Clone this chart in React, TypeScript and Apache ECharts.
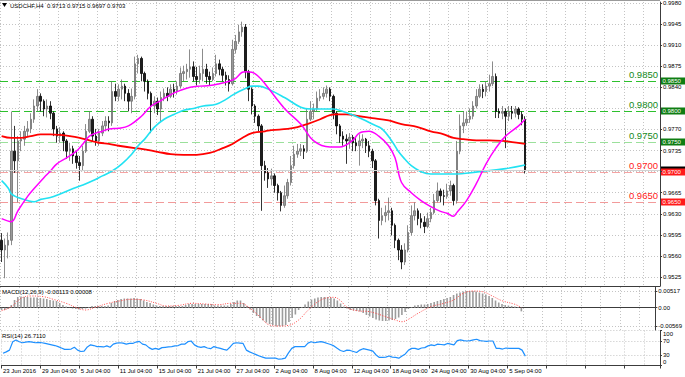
import React, { useEffect, useRef } from "react";
import * as echarts from "echarts";

const FONT = '"Liberation Sans", Arial, sans-serif';
const slotCount = 203;
const categories = Array.from({ length: slotCount }, (_, i) => String(i));

const dateLabels = ["23 Jun 2016", "29 Jun 04:00", "5 Jul 04:00", "11 Jul 04:00", "15 Jul 04:00", "21 Jul 04:00", "27 Jul 04:00", "2 Aug 04:00", "8 Aug 04:00", "12 Aug 04:00", "18 Aug 04:00", "24 Aug 04:00", "30 Aug 04:00", "5 Sep 04:00"];
const priceTicks = [0.9525, 0.956, 0.9595, 0.963, 0.9665, 0.97, 0.9735, 0.977, 0.9805, 0.984, 0.9875, 0.991, 0.9945, 0.998];
// labels hidden behind the level boxes in the reference are left out
const priceLabels = [0.9525, 0.956, 0.9595, 0.963, 0.9665, 0.9735, 0.977, 0.984, 0.9875, 0.991, 0.9945, 0.998];
const macdTicks = [-0.00569, 0, 0.00517];
const rsiTicks = [0, 30, 70, 100];

const symbolName = "USDCHF,H4";
const lastBar = [0.9713, 0.9715, 0.9697, 0.9703];
const macdNow = [-0.00113, 0.00008];
const rsiNow = 26.711;
const greenLevels = [0.985, 0.98, 0.975];
const redLevels = [0.97, 0.965];
const bidPrice = 0.9703;

// [open, close, low, high] per 8-hour slot
const candles = [
[0.9586,0.9570,0.9550,0.9598],[0.9570,0.9578,0.9523,0.9589],[0.9578,0.9586,0.9556,0.9599],[0.9586,0.9734,0.9578,0.9800],
[0.9734,0.9718,0.9698,0.9776],[0.9718,0.9751,0.9649,0.9759],[0.9751,0.9754,0.9734,0.9767],[0.9754,0.9767,0.9743,0.9776],
[0.9767,0.9771,0.9759,0.9784],[0.9771,0.9787,0.9764,0.9797],[0.9787,0.9809,0.9781,0.9820],[0.9809,0.9825,0.9800,0.9837],
[0.9825,0.9817,0.9800,0.9830],[0.9817,0.9804,0.9792,0.9820],[0.9804,0.9809,0.9790,0.9820],[0.9809,0.9797,0.9787,0.9817],
[0.9797,0.9771,0.9759,0.9800],[0.9771,0.9759,0.9748,0.9776],[0.9759,0.9764,0.9748,0.9774],[0.9764,0.9751,0.9734,0.9767],
[0.9751,0.9734,0.9721,0.9754],[0.9734,0.9738,0.9718,0.9748],[0.9738,0.9726,0.9713,0.9743],[0.9726,0.9715,0.9705,0.9734],
[0.9715,0.9710,0.9685,0.9726],[0.9710,0.9734,0.9701,0.9743],[0.9734,0.9767,0.9731,0.9779],[0.9767,0.9787,0.9764,0.9800],
[0.9787,0.9759,0.9751,0.9792],[0.9759,0.9751,0.9743,0.9771],[0.9751,0.9764,0.9743,0.9771],[0.9764,0.9776,0.9759,0.9784],
[0.9776,0.9784,0.9767,0.9792],[0.9784,0.9781,0.9767,0.9792],[0.9781,0.9833,0.9776,0.9850],[0.9833,0.9825,0.9817,0.9846],
[0.9825,0.9837,0.9817,0.9845],[0.9837,0.9842,0.9820,0.9853],[0.9842,0.9830,0.9817,0.9846],[0.9830,0.9817,0.9800,0.9837],
[0.9817,0.9825,0.9797,0.9838],[0.9825,0.9879,0.9820,0.9891],[0.9879,0.9888,0.9863,0.9894],[0.9888,0.9863,0.9850,0.9891],
[0.9863,0.9850,0.9833,0.9866],[0.9850,0.9830,0.9820,0.9853],[0.9830,0.9809,0.9764,0.9833],[0.9809,0.9817,0.9797,0.9825],
[0.9817,0.9804,0.9794,0.9823],[0.9804,0.9823,0.9784,0.9833],[0.9823,0.9830,0.9817,0.9838],[0.9830,0.9825,0.9817,0.9840],
[0.9825,0.9837,0.9822,0.9845],[0.9837,0.9833,0.9823,0.9846],[0.9833,0.9842,0.9828,0.9850],[0.9842,0.9863,0.9838,0.9873],
[0.9863,0.9866,0.9850,0.9876],[0.9866,0.9870,0.9853,0.9879],[0.9870,0.9874,0.9856,0.9903],[0.9874,0.9858,0.9850,0.9883],
[0.9858,0.9853,0.9843,0.9874],[0.9853,0.9863,0.9846,0.9876],[0.9863,0.9870,0.9850,0.9904],[0.9870,0.9858,0.9846,0.9879],
[0.9858,0.9853,0.9843,0.9866],[0.9853,0.9863,0.9850,0.9873],[0.9863,0.9879,0.9858,0.9894],[0.9879,0.9870,0.9860,0.9886],
[0.9870,0.9860,0.9850,0.9874],[0.9860,0.9853,0.9843,0.9866],[0.9853,0.9846,0.9833,0.9860],[0.9846,0.9903,0.9843,0.9919],
[0.9903,0.9916,0.9896,0.9927],[0.9916,0.9932,0.9912,0.9944],[0.9932,0.9940,0.9924,0.9949],[0.9940,0.9866,0.9855,0.9945],
[0.9866,0.9837,0.9817,0.9869],[0.9837,0.9809,0.9795,0.9840],[0.9809,0.9792,0.9781,0.9812],[0.9792,0.9776,0.9767,0.9795],
[0.9776,0.9710,0.9635,0.9779],[0.9710,0.9698,0.9685,0.9718],[0.9698,0.9688,0.9673,0.9706],[0.9688,0.9693,0.9677,0.9705],
[0.9693,0.9677,0.9665,0.9697],[0.9677,0.9665,0.9652,0.9680],[0.9665,0.9644,0.9634,0.9668],[0.9644,0.9660,0.9640,0.9677],
[0.9660,0.9682,0.9655,0.9688],[0.9682,0.9710,0.9677,0.9726],[0.9710,0.9729,0.9705,0.9743],[0.9729,0.9734,0.9723,0.9746],
[0.9734,0.9738,0.9726,0.9746],[0.9738,0.9734,0.9721,0.9744],[0.9734,0.9787,0.9731,0.9804],[0.9787,0.9800,0.9784,0.9817],
[0.9800,0.9804,0.9787,0.9813],[0.9804,0.9822,0.9800,0.9833],[0.9822,0.9825,0.9817,0.9837],[0.9825,0.9830,0.9820,0.9840],
[0.9830,0.9837,0.9823,0.9843],[0.9837,0.9825,0.9817,0.9840],[0.9825,0.9797,0.9787,0.9828],[0.9797,0.9776,0.9762,0.9800],
[0.9776,0.9759,0.9748,0.9779],[0.9759,0.9754,0.9743,0.9767],[0.9754,0.9751,0.9713,0.9762],[0.9751,0.9757,0.9738,0.9764],
[0.9757,0.9748,0.9734,0.9761],[0.9748,0.9743,0.9734,0.9757],[0.9743,0.9751,0.9710,0.9762],[0.9751,0.9754,0.9739,0.9762],
[0.9754,0.9743,0.9731,0.9756],[0.9743,0.9734,0.9724,0.9751],[0.9734,0.9718,0.9706,0.9738],[0.9718,0.9652,0.9644,0.9721],
[0.9652,0.9619,0.9589,0.9655],[0.9619,0.9627,0.9611,0.9640],[0.9627,0.9632,0.9616,0.9644],[0.9632,0.9635,0.9619,0.9657],
[0.9635,0.9611,0.9594,0.9640],[0.9611,0.9586,0.9573,0.9614],[0.9586,0.9570,0.9553,0.9589],[0.9570,0.9550,0.9538,0.9578],
[0.9550,0.9570,0.9545,0.9581],[0.9570,0.9599,0.9566,0.9611],[0.9599,0.9627,0.9594,0.9644],[0.9627,0.9635,0.9619,0.9649],
[0.9635,0.9622,0.9611,0.9639],[0.9622,0.9616,0.9606,0.9631],[0.9616,0.9609,0.9598,0.9626],[0.9609,0.9622,0.9606,0.9632],
[0.9622,0.9632,0.9616,0.9640],[0.9632,0.9652,0.9629,0.9663],[0.9652,0.9668,0.9649,0.9682],[0.9668,0.9660,0.9649,0.9672],
[0.9660,0.9659,0.9644,0.9670],[0.9659,0.9668,0.9655,0.9680],[0.9668,0.9677,0.9660,0.9685],[0.9677,0.9652,0.9644,0.9680],
[0.9652,0.9734,0.9647,0.9751],[0.9734,0.9776,0.9729,0.9795],[0.9776,0.9781,0.9764,0.9800],[0.9781,0.9787,0.9776,0.9800],
[0.9787,0.9792,0.9781,0.9805],[0.9792,0.9809,0.9787,0.9817],[0.9809,0.9825,0.9805,0.9837],[0.9825,0.9837,0.9822,0.9845],
[0.9837,0.9833,0.9822,0.9845],[0.9833,0.9842,0.9825,0.9850],[0.9842,0.9846,0.9833,0.9861],[0.9846,0.9858,0.9842,0.9883],
[0.9858,0.9800,0.9789,0.9863],[0.9800,0.9797,0.9789,0.9805],[0.9797,0.9800,0.9787,0.9809],[0.9800,0.9792,0.9739,0.9805],
[0.9792,0.9800,0.9784,0.9809],[0.9800,0.9797,0.9787,0.9809],[0.9797,0.9804,0.9790,0.9809],[0.9804,0.9795,0.9787,0.9807],
[0.9795,0.9787,0.9777,0.9800],[0.9787,0.9703,0.9697,0.9792]
];

// moving averages as [slot, value]
const maFast = [[0,0.9622],[3,0.9617],[5,0.9635],[8,0.9659],[10,0.9672],[13,0.9690],[15,0.9701],[17,0.9713],[20,0.9723],[23,0.9734],[25,0.9746],[27,0.9759],[29,0.9764],[31,0.9767],[33,0.9771],[36,0.9772],[39,0.9776],[43,0.9792],[46,0.9809],[49,0.9818],[52,0.9828],[55,0.9835],[58,0.9840],[61,0.9842],[64,0.9843],[67,0.9846],[70,0.9850],[72,0.9855],[74,0.9865],[75,0.9866],[77,0.9865],[79,0.9858],[81,0.9846],[87,0.9805],[92,0.9779],[96,0.9751],[101,0.9741],[104,0.9741],[108,0.9752],[110,0.9764],[113,0.9767],[116,0.9759],[119,0.9743],[121,0.9723],[123,0.9682],[126,0.9665],[129,0.9652],[132,0.9642],[135,0.9634],[137,0.9631],[139,0.9626],[140,0.9632],[143,0.9652],[146,0.9680],[149,0.9713],[152,0.9739],[155,0.9759],[159,0.9776],[161,0.9787]];
const maMid = [[0,0.9685],[2,0.9673],[3,0.9663],[5,0.9657],[8,0.9652],[10,0.9650],[12,0.9654],[15,0.9657],[18,0.9663],[22,0.9672],[25,0.9678],[28,0.9685],[31,0.9693],[34,0.9701],[37,0.9713],[40,0.9729],[42,0.9743],[44,0.9754],[47,0.9774],[50,0.9787],[53,0.9795],[56,0.9802],[59,0.9805],[62,0.9809],[66,0.9812],[69,0.9820],[71,0.9827],[73,0.9833],[75,0.9838],[77,0.9842],[79,0.9842],[82,0.9837],[87,0.9823],[92,0.9807],[95,0.9804],[102,0.9804],[105,0.9800],[108,0.9794],[111,0.9787],[114,0.9779],[117,0.9771],[120,0.9751],[122,0.9734],[124,0.9721],[126,0.9710],[129,0.9700],[132,0.9696],[139,0.9696],[147,0.9700],[155,0.9705],[161,0.9711]];
const maSlow = [[0,0.9759],[3,0.9756],[6,0.9756],[9,0.9759],[12,0.9762],[15,0.9762],[18,0.9761],[21,0.9759],[24,0.9756],[27,0.9752],[30,0.9748],[33,0.9746],[36,0.9743],[41,0.9739],[43,0.9738],[48,0.9733],[52,0.9729],[56,0.9728],[60,0.9728],[64,0.9731],[68,0.9739],[71,0.9746],[74,0.9756],[77,0.9764],[81,0.9767],[83,0.9769],[88,0.9771],[91,0.9774],[94,0.9779],[98,0.9787],[101,0.9794],[103,0.9795],[106,0.9795],[110,0.9792],[114,0.9789],[119,0.9785],[123,0.9779],[128,0.9774],[132,0.9767],[136,0.9762],[139,0.9756],[142,0.9754],[146,0.9752],[150,0.9752],[154,0.9751],[157,0.9749],[161,0.9746]];

const macdHist = [
-0.00071,-0.00071,-0.00040,0.00084,0.00239,0.00332,0.00347,0.00332,0.00332,0.00316,
0.00316,0.00316,0.00301,0.00285,0.00270,0.00239,0.00223,0.00208,0.00146,0.00084,
0.00037,-0.00009,-0.00025,-0.00040,-0.00056,-0.00040,-0.00025,0.00022,0.00053,0.00053,
0.00053,0.00053,0.00053,0.00068,0.00146,0.00208,0.00239,0.00270,0.00285,0.00285,
0.00285,0.00301,0.00285,0.00270,0.00223,0.00177,0.00146,0.00099,0.00068,0.00053,
0.00053,0.00053,0.00053,0.00053,0.00053,0.00053,0.00053,0.00084,0.00115,0.00115,
0.00115,0.00115,0.00115,0.00115,0.00115,0.00115,0.00068,0.00068,0.00068,0.00068,
0.00068,0.00115,0.00177,0.00223,0.00223,0.00146,0.00053,-0.00056,-0.00164,-0.00257,
-0.00319,-0.00397,-0.00459,-0.00505,-0.00536,-0.00567,-0.00567,-0.00567,-0.00536,-0.00443,
-0.00319,-0.00211,-0.00071,0.00022,0.00099,0.00192,0.00254,0.00285,0.00316,0.00332,
0.00332,0.00332,0.00316,0.00285,0.00223,0.00130,0.00037,-0.00025,-0.00071,-0.00087,
-0.00102,-0.00118,-0.00164,-0.00226,-0.00273,-0.00319,-0.00366,-0.00397,-0.00412,-0.00412,
-0.00397,-0.00381,-0.00350,-0.00304,-0.00226,-0.00133,-0.00040,0.00022,0.00068,0.00084,
0.00099,0.00099,0.00115,0.00146,0.00177,0.00208,0.00239,0.00270,0.00301,0.00332,
0.00394,0.00440,0.00471,0.00502,0.00517,0.00517,0.00517,0.00502,0.00471,0.00440,
0.00409,0.00363,0.00301,0.00223,0.00161,0.00115,0.00084,0.00068,0.00053,0.00037,
0.00022,-0.00113
];
const macdSignal = [[0,-0.00093],[3,0.00031],[6,0.00291],[9,0.00363],[13,0.00341],[16,0.0026],[20,0.00136],[23,0.00012],[26,-0.00071],[29,0.00012],[33,0.00136],[37,0.00217],[40,0.0026],[44,0.00239],[48,0.00136],[51,0.00053],[55,0.00074],[59,0.00136],[63,0.00115],[67,0.00093],[71,0.00136],[74,0.00136],[77,-0.00019],[80,-0.00279],[83,-0.00536],[86,-0.00569],[89,-0.00545],[92,-0.00381],[95,-0.00071],[98,0.00186],[101,0.0031],[103,0.00322],[105,0.00217],[107,0.00012],[110,-0.00093],[114,-0.00124],[119,-0.00279],[122,-0.00381],[124,-0.00434],[126,-0.0036],[129,-0.00174],[133,0.00031],[137,0.00136],[140,0.00239],[143,0.00446],[146,0.00518],[149,0.00496],[152,0.00363],[155,0.00217],[159,0.00105],[161,0.00008]];

const rsiValues = [
35,39,44,68,73,68,65,67,68,67,
65,66,65,63,61,59,57,54,50,46,
46,47,52,44,40,41,53,59,57,54,
54,53,56,52,61,64,65,64,61,63,
63,67,69,61,59,51,46,49,46,51,
52,53,54,56,57,61,61,68,70,59,
54,52,54,50,48,54,51,49,46,44,
53,63,65,64,63,44,39,35,31,27,
24,21,21,21,21,18,19,21,36,49,
54,54,54,54,64,68,65,67,68,66,
63,60,56,49,43,40,44,43,40,37,
44,48,46,44,41,30,23,23,24,27,
24,23,21,27,33,44,49,49,46,50,
51,56,59,57,61,60,59,63,61,59,
71,73,71,70,71,73,75,71,70,69,
70,70,49,49,47,50,49,49,49,49,
44,26.711
];

const AXIS = "#3c3c3c";
const GRIDC = "#c4c4c4";

export default function App() {
  const ref = useRef<HTMLDivElement>(null);
  useEffect(() => {
    if (!ref.current) return;
    const chart = echarts.init(ref.current, null, { renderer: "svg" });
    const xBase = (gi: number, labels: boolean) => ({
      type: "category",
      gridIndex: gi,
      data: categories,
      boundaryGap: true,
      axisLine: { show: true, lineStyle: { color: AXIS, width: 1 } },
      axisTick: labels
        ? { show: true, interval: (i: number) => i % 12 === 0, length: 3, lineStyle: { color: AXIS } }
        : { show: false },
      axisLabel: labels
        ? {
            show: true,
            interval: (i: number) => i % 12 === 0,
            formatter: (_v: string, i: number) => (i % 12 === 0 && dateLabels[i / 12]) || "",
            align: "left",
            fontSize: 6,
            fontFamily: FONT,
            color: "#000",
            margin: 2,
          }
        : { show: false },
      splitLine: { show: true, interval: (i: number) => i % 6 === 0, lineStyle: { color: GRIDC, type: [1, 2], width: 1 } },
    });
    const yBase = (gi: number, min: number, max: number, ticks: number[], labelsAt: number[], fmt: any, extra: any = {}) => ({
      type: "value",
      gridIndex: gi,
      position: "right",
      min,
      max,
      axisLine: { show: true, lineStyle: { color: AXIS, width: 1 } },
      axisTick: { show: true, length: 2, customValues: ticks, lineStyle: { color: AXIS } },
      axisLabel: { show: true, customValues: labelsAt, formatter: fmt, fontSize: 6, fontFamily: FONT, color: "#000", margin: 3, ...extra },
      splitLine: { show: true, customValues: ticks, lineStyle: { color: GRIDC, type: [1, 2], width: 1 } },
    });

    chart.setOption({
      animation: false,
      backgroundColor: "#ffffff",
      textStyle: { fontFamily: FONT },
      grid: [
        { left: 0, right: 25, top: 0, height: 286 },
        { left: 0, right: 25, top: 287, height: 43 },
        { left: 0, right: 25, top: 330.5, height: 35 },
      ],
      xAxis: [xBase(0, false), xBase(1, false), xBase(2, true)],
      yAxis: [
        yBase(0, 0.951017, 0.998165, priceTicks, priceLabels, (v: number) => v.toFixed(4)),
        yBase(1, -0.00691, 0.00642, macdTicks, macdTicks, (v: number) => (v === 0 ? "0.00" : v.toFixed(5))),
        yBase(2, 0, 100, rsiTicks, rsiTicks, (v: number) => (v === 100 ? "{t|100}" : v === 0 ? "{b|0}" : String(v)), {
          rich: {
            t: { fontSize: 6, fontFamily: FONT, color: "#000", padding: [7, 0, 0, 0] },
            b: { fontSize: 6, fontFamily: FONT, color: "#000", padding: [0, 0, 7, 0] },
          },
        }),
      ],
      series: [
        {
          type: "candlestick",
          xAxisIndex: 0,
          yAxisIndex: 0,
          data: candles,
          barWidth: 2,
          itemStyle: { color: "#9a9a9a", color0: "#1e1e1e", borderColor: "#6e6e6e", borderColor0: "#000000", borderWidth: 0.8 },
        },
        { type: "line", xAxisIndex: 0, yAxisIndex: 0, data: maSlow, smooth: 0.4, showSymbol: false, lineStyle: { color: "#ff0000", width: 1.8 }, z: 4 },
        { type: "line", xAxisIndex: 0, yAxisIndex: 0, data: maMid, smooth: 0.4, showSymbol: false, lineStyle: { color: "#22e2f2", width: 1.6 }, z: 5 },
        { type: "line", xAxisIndex: 0, yAxisIndex: 0, data: maFast, smooth: 0.4, showSymbol: false, lineStyle: { color: "#ff00ff", width: 1.5 }, z: 6 },
        { type: "bar", xAxisIndex: 1, yAxisIndex: 1, data: macdHist, barWidth: 1.6, itemStyle: { color: "#9c9c9c" } },
        { type: "line", xAxisIndex: 1, yAxisIndex: 1, data: macdSignal, smooth: 0.4, showSymbol: false, lineStyle: { color: "#ff4a4a", width: 1, type: [1, 1.5] }, z: 5 },
        { type: "line", xAxisIndex: 2, yAxisIndex: 2, data: rsiValues, showSymbol: false, lineStyle: { color: "#1e90ff", width: 1.2 } },
      ],
    });

    const py = (v: number) => Math.round(chart.convertToPixel({ yAxisIndex: 0 }, v) as number) + 0.5;
    const level = (v: number, lineColor: string, textColor: string) => ({
      type: "group",
      z: 50,
      children: [
        { type: "line", shape: { x1: 0, y1: py(v), x2: 660, y2: py(v) }, style: { stroke: lineColor, lineWidth: 1, lineDash: [8, 4] } },
        {
          type: "text",
          style: { text: v.toFixed(4), x: 658, y: py(v) - 2, fill: textColor, fontSize: 9.5, fontFamily: FONT, align: "right", verticalAlign: "bottom" },
        },
      ],
    });
    const box = (v: number, fill: string, withText: boolean) => ({
      type: "group",
      z: 100,
      children: [
        { type: "rect", shape: { x: 661, y: py(v) - 4, width: 24, height: 7 }, style: { fill } },
        ...(withText
          ? [{ type: "text", style: { text: v.toFixed(4), x: 662.5, y: py(v) - 0.5, fill: "#ffffff", fontSize: 6, fontFamily: FONT, verticalAlign: "middle" } }]
          : []),
      ],
    });
    chart.setOption({
      graphic: [
        { type: "line", shape: { x1: 0, y1: 0.5, x2: 660, y2: 0.5 }, style: { stroke: "#9a9a9a", lineWidth: 1 } },
        { type: "line", z: 40, shape: { x1: 0, y1: py(bidPrice), x2: 660, y2: py(bidPrice) }, style: { stroke: "#d2d2d2", lineWidth: 1 } },
        level(greenLevels[0], "#2dc02d", "#13891a"),
        level(greenLevels[1], "#2dc02d", "#13891a"),
        level(greenLevels[2], "#9be09b", "#13891a"),
        level(redLevels[0], "#f5a3a3", "#ff1a1a"),
        level(redLevels[1], "#f29a9a", "#ff1a1a"),
        { type: "polygon", shape: { points: [[2, 3], [7, 3], [4.5, 7]] }, style: { fill: "#000" } },
        {
          type: "text",
          style: { text: `${symbolName}  ${lastBar.map((v) => v.toFixed(4)).join(" ")}`, x: 10, y: 5.5, fontSize: 6, fontFamily: FONT, fill: "#000", verticalAlign: "middle" },
        },
        {
          type: "text",
          style: { text: `MACD(12,26,9) ${macdNow[0].toFixed(5)} ${macdNow[1].toFixed(5)}`, x: 2, y: 291.5, fontSize: 6, fontFamily: FONT, fill: "#000", verticalAlign: "middle" },
        },
        {
          type: "text",
          style: { text: `RSI(14) ${rsiNow.toFixed(4)}`, x: 2, y: 335.5, fontSize: 6, fontFamily: FONT, fill: "#000", verticalAlign: "middle" },
        },
        box(greenLevels[0], "#0f7d12", true),
        box(greenLevels[1], "#0f7d12", true),
        box(greenLevels[2], "#0f7d12", true),
        box(bidPrice, "#000000", false),
        box(redLevels[0], "#ff1a1a", true),
        box(redLevels[1], "#ff1a1a", true),
      ],
    });
    return () => chart.dispose();
  }, []);
  return <div ref={ref} style={{ position: "fixed", left: 0, top: 0, width: 685, height: 377, background: "#fff" }} />;
}
